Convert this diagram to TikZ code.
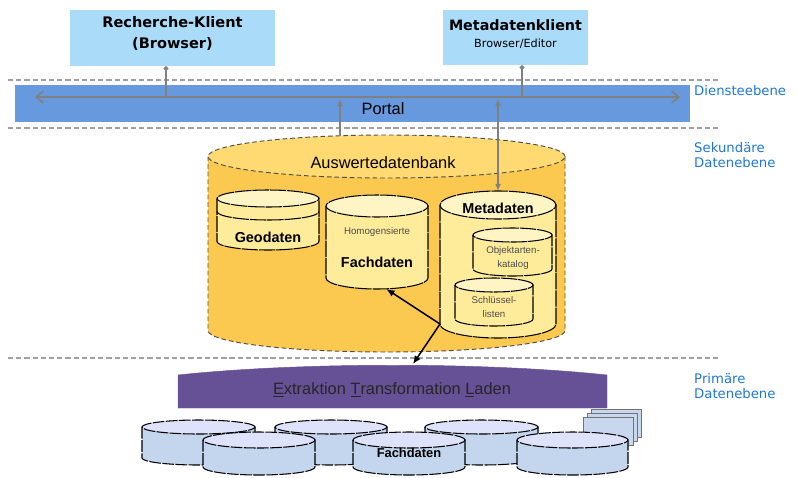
\documentclass[tikz,border=0pt]{standalone}
\usepackage{fontspec}
\setmainfont{Liberation Sans}
\newfontfamily\verdfont{DejaVu Sans}
\usetikzlibrary{arrows.meta}

\definecolor{clientblue}{RGB}{170,220,250}
\definecolor{portalblue}{RGB}{102,153,221}
\definecolor{levelblue}{RGB}{30,120,210}
\definecolor{sepgray}{RGB}{160,160,160}
\definecolor{arrgray}{RGB}{128,128,128}
\definecolor{dbbody}{RGB}{251,200,80}
\definecolor{dbtop}{RGB}{255,218,115}
\definecolor{subbody}{RGB}{255,236,155}
\definecolor{subtop}{RGB}{255,244,195}
\definecolor{etlpurple}{RGB}{102,80,150}
\definecolor{srcbody}{RGB}{196,214,238}
\definecolor{srctop}{RGB}{222,226,250}
\definecolor{pagefill}{RGB}{200,214,238}

% name, cx, y of top centre, rx, ry, height, body colour, top colour, line style
\newcommand{\dbcyl}[9]{%
  \draw[#9, fill=#7] (#2-#4,#3) -- (#2-#4,#3-#6)
      arc[start angle=180, end angle=360, x radius=#4, y radius=#5]
      -- (#2+#4,#3) -- cycle;
  \draw[#9, fill=#8] (#2,#3) ellipse[x radius=#4, y radius=#5];
  \coordinate (#1-top) at (#2,#3+#5);
  \coordinate (#1-bot) at (#2,#3-#6-#5);
  \coordinate (#1-w) at (#2-#4,#3-#6);
}

\tikzset{
  client/.style={fill=clientblue, inner sep=0pt},
  clienttext/.style={align=center, inner sep=0pt},
  separator/.style={sepgray, line width=1.1pt, dash pattern=on 4.5pt off 2.5pt},
  level/.style={levelblue, anchor=west, align=left, inner sep=0pt,
    font=\verdfont\fontsize{11.3}{12.5}\selectfont},
  conn/.style={arrgray, line width=1.3pt},
  feed/.style={-{Latex[length=7pt,width=6pt]}, line width=1.3pt},
  dbline/.style={line width=0.9pt, dash pattern=on 14pt off 0.8pt},
  srcline/.style={line width=0.9pt, dash pattern=on 10pt off 1.2pt},
  bigline/.style={black!70, line width=0.8pt, dash pattern=on 4pt off 2.5pt},
  big/.style={font=\fontsize{14}{16}\selectfont},
  inner/.style={font=\bfseries\fontsize{12.3}{14}\selectfont},
  small/.style={black!70, align=center, font=\fontsize{8.3}{11.5}\selectfont}
}

\begin{document}
\begin{tikzpicture}[x=0.03cm, y=0.03cm]
  \useasboundingbox (0,0) rectangle (796,-477);

  % levels
  \draw[separator] (8,-80) -- (718,-80);
  \draw[separator] (8,-128) -- (718,-128);
  \draw[separator] (8,-358) -- (718,-358);
  \node[level] (dienst) at (694,-91) {Diensteebene};
  \node[level] (sekund) at (694,-155) {Sekundäre\\Datenebene};
  \node[level] (primaer) at (694,-386) {Primäre\\Datenebene};

  % clients and portal
  \node[client, minimum width=6.15cm, minimum height=1.68cm] (rk) at (172.5,-38) {};
  \node[clienttext, font=\verdfont\bfseries\fontsize{12.4}{18}\selectfont]
      (rktext) at (172.5,-33) {Recherche-Klient\\(Browser)};
  \node[client, minimum width=4.35cm, minimum height=1.65cm] (mk) at (515.5,-37.5) {};
  \node[clienttext, font=\verdfont\bfseries\fontsize{12.2}{14.5}\selectfont]
      (mktext) at (515.5,-34) {Metadatenklient\\{\mdseries\fontsize{9.6}{12}\selectfont Browser/Editor}};
  \node[fill=portalblue, minimum width=20.25cm, minimum height=1.11cm, inner sep=0pt]
      (portal) at (352.5,-103.5) {};
  \node[big] (portaltext) at (383,-109) {Portal};

  \coordinate (pw) at (35,-97);
  \coordinate (pe) at (680,-97);
  \coordinate (rkjoin) at (166,-97);
  \coordinate (mkjoin) at (522,-97);
  \draw[conn, {Straight Barb[length=6pt,width=10pt]}-{Straight Barb[length=6pt,width=10pt]}]
      (pw) -- (pe);
  \draw[conn, {Circle[length=4pt]}-] (rk.south -| rkjoin) -- (rkjoin);
  \draw[conn, {Circle[length=4pt]}-] (mk.south -| mkjoin) -- (mkjoin);

  % Auswertedatenbank
  \dbcyl{adb}{386.5}{-156.5}{178.5}{21.5}{174}{dbbody}{dbtop}{bigline}
  \node[big] (adbtext) at (383,-163) {Auswertedatenbank};

  \dbcyl{geo}{268}{-198.5}{51}{8.5}{43}{subbody}{subtop}{dbline}
  \draw[dbline] (217,-211.5) arc[start angle=180, end angle=360, x radius=51, y radius=8.5];
  \node[inner] (geotext) at (268,-237) {Geodaten};

  \dbcyl{fach}{377}{-206}{51}{11}{72}{subbody}{subtop}{dbline}
  \node[small] (homtext) at (377,-232) {Homogensierte};
  \node[inner] (fachtext) at (377,-262) {Fachdaten};

  \dbcyl{meta}{498}{-205}{58}{14}{119}{subbody}{subtop}{dbline}
  \node[inner] (metatext) at (498,-208) {Metadaten};
  \dbcyl{okat}{512.5}{-235}{39.5}{7}{34}{subbody}{subtop}{dbline}
  \node[small] (okattext) at (513,-258) {Objektarten-\\katalog};
  \dbcyl{skey}{494}{-285}{39}{7}{34}{subbody}{subtop}{dbline}
  \node[small] (skeytext) at (494,-307) {Schlüssel-\\listen};

  \coordinate (adbport) at (340,-136);
  \coordinate (metaport) at (498,-99);
  \draw[conn, -{Latex[length=6pt,width=5pt]}] (adbport) -- (adbport |- metaport);
  \draw[conn, {Latex[length=6pt,width=5pt]}-{Latex[length=6pt,width=5pt]}]
      (metaport) -- (meta-top);

  % ETL
  \draw[etlpurple, fill=etlpurple] (178,-408) -- (178,-375)
      .. controls (300,-362) and (485,-362) .. (607,-375) -- (607,-408) -- cycle;
  \node[big, text=black!85] (etl) at (392,-390)
      {\underline{E}xtraktion \underline{T}ransformation \underline{L}aden};
  \coordinate (etl-top) at (413,-364);
  \draw[feed] (meta-w) -- ([xshift=8]fach-bot);
  \draw[feed] (meta-w) -- (etl-top);

  % Fachdaten sources
  \dbcyl{src1}{198.5}{-427}{56.5}{7}{31}{srcbody}{srctop}{srcline}
  \dbcyl{src2}{331}{-427}{56}{7}{31}{srcbody}{srctop}{srcline}
  \dbcyl{src3}{481.5}{-427}{56.5}{7}{31}{srcbody}{srctop}{srcline}
  \draw[black!55, fill=pagefill] (591,-409) rectangle (641,-437);
  \draw[black!55, fill=pagefill] (587,-413) rectangle (637,-441);
  \draw[black!55, fill=pagefill] (583,-417) rectangle (633,-445);
  \dbcyl{src4}{259}{-440}{56}{8}{27}{srcbody}{srctop}{srcline}
  \dbcyl{src5}{409}{-440}{56}{8}{27}{srcbody}{srctop}{srcline}
  \dbcyl{src6}{572.5}{-440}{55.5}{8}{27}{srcbody}{srctop}{srcline}
  \node[font=\bfseries\fontsize{11}{13}\selectfont] (srctext) at (409,-453) {Fachdaten};
\end{tikzpicture}
\end{document}
